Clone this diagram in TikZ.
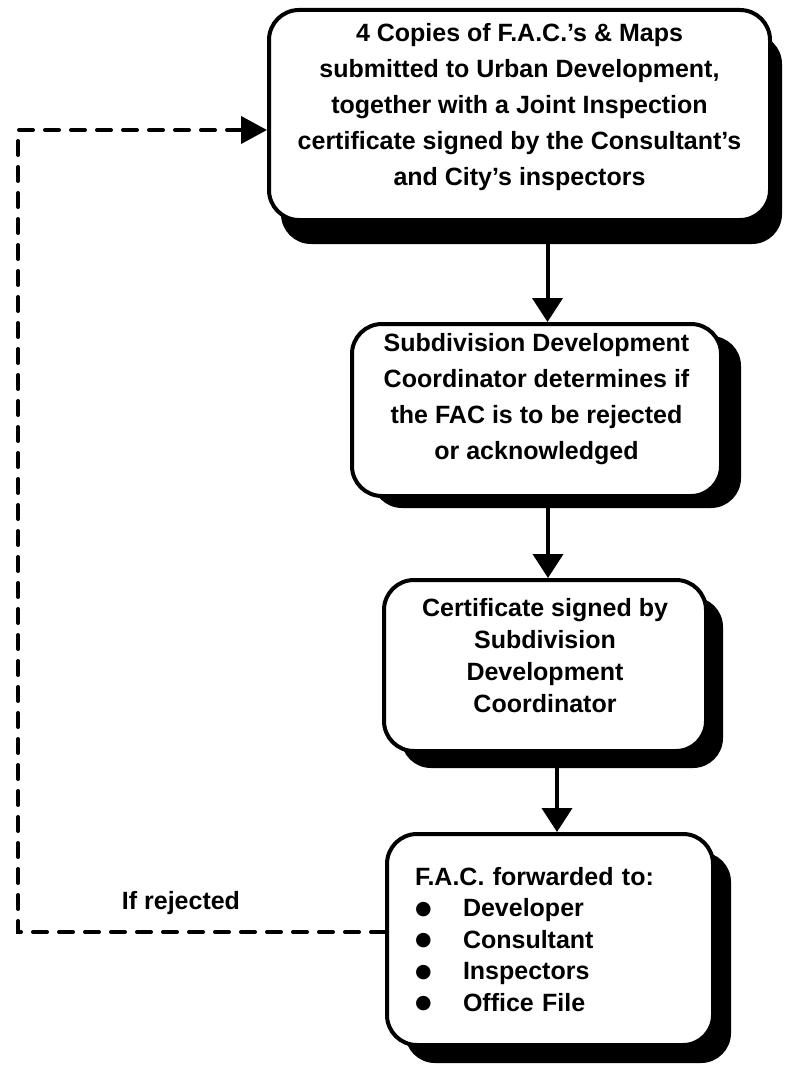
\documentclass[tikz,border=0pt]{standalone}
\usepackage{fontspec}
\setmainfont{Liberation Sans}
\newfontfamily\dejavu{DejaVu Sans}
\usetikzlibrary{arrows.meta,shadows,calc}
\newcommand{\bigbul}{\makebox[48pt][l]{\raisebox{2.5pt}{\dejavu\fontsize{19}{19}\selectfont ●}}}
\begin{document}
\begin{tikzpicture}[x=1pt,y=-1pt,
  box/.style={draw,line width=4pt,rounded corners=30pt,fill=white,align=center,inner sep=0pt,
    font=\bfseries\fontsize{25}{36}\selectfont},
  flow/.style={line width=4pt,-{Triangle[length=24pt,width=30pt]}},
  back/.style={line width=4pt,dash pattern=on 14pt off 12pt,line cap=round,
    -{Triangle[length=26pt,width=27pt]}},
  lbl/.style={font=\bfseries\fontsize{25}{30}\selectfont}]
\useasboundingbox (0,0) rectangle (790,1065);

\node[box,minimum width=501pt,minimum height=210pt,
  drop shadow={shadow xshift=12pt,shadow yshift=-24pt,fill=black,opacity=1}] (b1) at (519.5,115)
  {4 Copies of F.A.C.'s \& Maps\\submitted to Urban Development,\\together with a Joint Inspection\\certificate signed by the Consultant's\\and City's inspectors\\[-14pt]\mbox{}};

\node[box,minimum width=369pt,minimum height=172pt,
  drop shadow={shadow xshift=20pt,shadow yshift=-12pt,fill=black,opacity=1}] (b2) at (536.5,410)
  {Subdivision Development\\Coordinator determines if\\the FAC is to be rejected\\or acknowledged\\[-8pt]\mbox{}};

\node[box,minimum width=322pt,minimum height=171pt,font=\bfseries\fontsize{25}{32}\selectfont,
  drop shadow={shadow xshift=17pt,shadow yshift=-17pt,fill=black,opacity=1}] (b3) at (545,665.5)
  {Certificate signed by\\Subdivision\\Development\\Coordinator\\[-12pt]\mbox{}};

\node[box,minimum width=326pt,minimum height=211pt,text width=270pt,align=left,inner xsep=28pt,
  font=\bfseries\fontsize{25}{31.5}\selectfont,
  drop shadow={shadow xshift=18pt,shadow yshift=-18pt,fill=black,opacity=1}] (b4) at (550,939.5)
  {F.A.C. forwarded to:\\
   \bigbul Developer\\
   \bigbul Consultant\\
   \bigbul Inspectors\\
   \bigbul Office File};

\draw[flow] ([xshift=28pt]b1.south) -- ([xshift=28pt]b1.south |- b2.north);
\draw[flow] ([xshift=11.5pt]b2.south) -- ([xshift=11.5pt]b2.south |- b3.north);
\draw[flow] ([xshift=12pt]b3.south) -- ([xshift=12pt]b3.south |- b4.north);

\node[lbl] (rej) at (181,903) {If rejected};
\coordinate (c2) at (18,130);
\draw[back] ([yshift=7.5pt]b4.west) -| (c2) -- ([yshift=-15pt]b1.west);
\end{tikzpicture}
\end{document}
